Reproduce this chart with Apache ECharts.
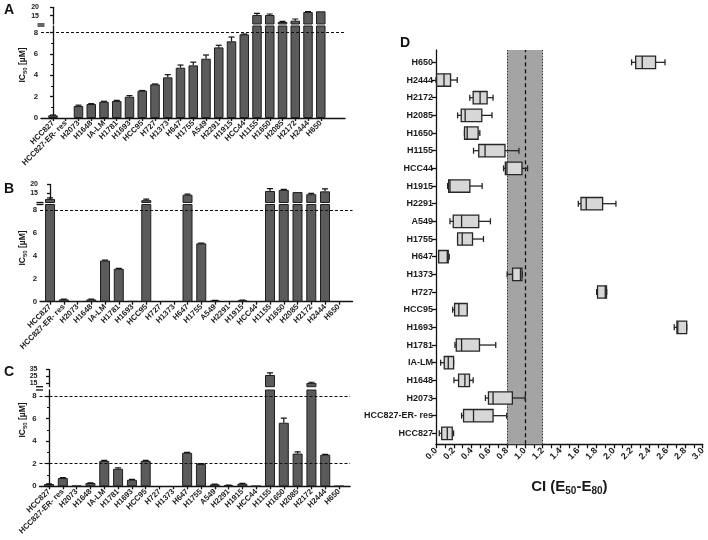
<!DOCTYPE html>
<html><head><meta charset="utf-8">
<script src="https://cdn.jsdelivr.net/npm/echarts@6/dist/echarts.min.js"></script>
<style>html,body{margin:0;padding:0;background:#fff}#c{width:708px;height:540px}</style>
</head><body><div id="c"></div>
<script>
// ---------- data ----------
const cellLines = ['HCC827','HCC827-ER- res','H2073','H1648','IA-LM','H1781','H1693','HCC95','H727','H1373','H647','H1755','A549','H2291','H1915','HCC44','H1155','H1650','H2085','H2172','H2444','H650'];
// Panel A
const icA  = [0.25,0,1.12,1.31,1.52,1.59,1.99,2.55,3.15,3.8,4.7,4.92,5.54,6.6,7.17,7.82,15.4,15.4,11.2,12.0,17.2,17.6];
const errA = [0.03,0,0.08,0.03,0.04,0.06,0.1,0.02,0.03,0.25,0.25,0.3,0.35,0.2,0.4,0.03,1.0,0.6,0.4,1.0,0.3,0];
// Panel B
const icB  = [12.0,0.2,0.03,0.2,3.6,2.88,0.05,11.3,0,0,14.3,5.1,0.1,0.04,0.12,0.03,16.4,17.0,15.8,14.6,16.2,0];
const errB = [0.6,0.02,0,0.02,0.03,0.03,0,0.6,0,0,0.4,0.03,0.02,0,0.03,0,1.3,0.3,0,0.5,1.4,0];
// Panel C
const icC  = [0.2,0.73,0.05,0.29,2.25,1.55,0.58,2.25,0,0,2.97,1.97,0.17,0.08,0.23,0.03,27,5.63,2.9,15.5,2.8,0.02];
const errC = [0.02,0.03,0,0.02,0.04,0.08,0.04,0.04,0,0,0.04,0.03,0.03,0.02,0.03,0,3,0.4,0.15,1.0,0.03,0];
const refLinesAB = [8];
const refLinesC = [8, 2];
const lowerTicks = [0,2,4,6,8];
const upperTicksAB = [15,20];
const upperTicksC = [15,25,35];
// Panel D (CI box plots), same order as cellLines (bottom to top)
const ciLow  = [0.037,0.288,0.556,0.202,0.052,0.213,2.68,0.187,1.807,0.80,0.03,0.243,0.157,1.601,0.131,0.76,0.422,0.32,0.243,0.38,0.0,2.20];
const ciQ1   = [0.064,0.31,0.59,0.254,0.093,0.228,2.71,0.209,1.817,0.862,0.03,0.243,0.194,1.631,0.142,0.78,0.481,0.321,0.284,0.418,0.007,2.246];
const ciMed  = [0.127,0.422,0.642,0.325,0.138,0.288,2.72,0.257,1.904,0.95,0.127,0.295,0.288,1.69,0.157,0.798,0.552,0.351,0.328,0.496,0.09,2.32];
const ciQ3   = [0.183,0.642,0.859,0.377,0.198,0.489,2.82,0.351,1.918,0.967,0.138,0.411,0.481,1.874,0.381,0.967,0.776,0.474,0.515,0.575,0.164,2.47];
const ciHigh = [0.198,0.795,1.004,0.418,0.198,0.672,2.82,0.351,1.92,0.97,0.149,0.534,0.612,2.024,0.519,1.03,0.933,0.493,0.63,0.642,0.239,2.576];
const ciBand = [0.8, 1.2];
const ciRef = 1.0;

// ---------- layout ----------
const FONT = 'Liberation Sans, Arial, sans-serif';
const TXT = '#1a1a1a';
const idx = cellLines.map((_, i) => i);
const panels = [
  {vals: icA, errs: errA, refs: refLinesAB, upTicks: upperTicksAB, upMin: 10, upMax: 20, loMax: 8.6,
   left: 41, xr: [-0.94, 22.9], width: 304, up: [7.3, 16.7], lo: [26, 92], bw: 9.5},
  {vals: icB, errs: errB, refs: refLinesAB, upTicks: upperTicksAB, upMin: 10, upMax: 20, loMax: 8.5,
   left: 40, xr: [-0.73, 22.0], width: 312.5, up: [184.5, 18], lo: [204.5, 97.2], bw: 10},
  {vals: icC, errs: errC, refs: refLinesC, upTicks: upperTicksC, upMin: 10, upMax: 35, loMax: 8.53,
   left: 39.5, xr: [-0.69, 21.8], width: 310.6, up: [369.5, 17.2], lo: [390, 96.3], bw: 10}
];

const grid = [], xAxis = [], yAxis = [], series = [], breakMarks = [];
const axisLineStyle = {color: '#111', width: 1.3};
const labelStyle = {color: TXT, fontFamily: FONT, fontWeight: 'bold', fontSize: 7.8};

function errRender(params, api) {
  const x = api.value(0);
  const p0 = api.coord([x, api.value(1)]);
  const p1 = api.coord([x, api.value(2)]);
  const hw = 3;
  return {type: 'group', children: [
    {type: 'line', shape: {x1: p0[0], y1: p0[1], x2: p1[0], y2: p1[1]}, style: {stroke: '#111', lineWidth: 1.2}},
    {type: 'line', shape: {x1: p1[0] - hw, y1: p1[1], x2: p1[0] + hw, y2: p1[1]}, style: {stroke: '#111', lineWidth: 1.2}}
  ]};
}

panels.forEach((p, k) => {
  const gu = grid.length, gl = gu + 1;
  grid.push({left: p.left, top: p.up[0], width: p.width, height: p.up[1]});
  grid.push({left: p.left, top: p.lo[0], width: p.width, height: p.lo[1]});
  // axis break marks (decoration only)
  [p.up[0] + p.up[1], p.lo[0]].forEach(yy => breakMarks.push({type: 'line', silent: true,
    shape: {x1: p.left - 3.5, y1: yy, x2: p.left + 3.5, y2: yy}, style: {stroke: '#111', lineWidth: 1.3}}));
  xAxis.push({gridIndex: gu, type: 'value', min: p.xr[0], max: p.xr[1], show: false});
  xAxis.push({gridIndex: gl, type: 'value', min: p.xr[0], max: p.xr[1],
    axisLine: {show: true, onZero: false, lineStyle: axisLineStyle},
    axisTick: {show: true, customValues: idx, length: 3, lineStyle: axisLineStyle},
    axisLabel: Object.assign({customValues: idx, rotate: 45, margin: 4, formatter: v => cellLines[Math.round(v)] || ''}, labelStyle),
    splitLine: {show: false}});
  yAxis.push({gridIndex: gu, type: 'value', min: p.upMin, max: p.upMax,
    axisLine: {show: true, lineStyle: axisLineStyle},
    axisTick: {show: true, customValues: p.upTicks, length: 3, lineStyle: axisLineStyle},
    axisLabel: Object.assign({customValues: p.upTicks, margin: 2}, labelStyle, {fontSize: 7, lineHeight: 7}),
    splitLine: {show: false}});
  yAxis.push({gridIndex: gl, type: 'value', min: 0, max: p.loMax, interval: 2,
    axisLine: {show: true, lineStyle: axisLineStyle},
    axisTick: {show: true, customValues: lowerTicks, length: 3, lineStyle: axisLineStyle},
    minorTick: {show: true, splitNumber: 2, length: 2, lineStyle: {color: '#111', width: 1}},
    axisLabel: Object.assign({customValues: lowerTicks, margin: 3}, labelStyle),
    splitLine: {show: false}});
  const barStyle = {color: '#5b5b5b', borderColor: '#1e1e1e', borderWidth: 1};
  series.push({type: 'bar', xAxisIndex: gl, yAxisIndex: gl, barWidth: p.bw, clip: true,
    itemStyle: barStyle, silent: true,
    data: p.vals.map((v, i) => [i, v]).filter(d => d[1] > 0),
    markLine: {silent: true, symbol: 'none', label: {show: false},
      lineStyle: {color: '#111', type: [3, 2], width: 1.1},
      data: p.refs.map(r => ({yAxis: r}))}});
  series.push({type: 'bar', xAxisIndex: gu, yAxisIndex: gu, barWidth: p.bw, clip: true,
    itemStyle: barStyle, silent: true,
    data: p.vals.map((v, i) => [i, v]).filter(d => d[1] >= p.upMin)});
  series.push({type: 'custom', xAxisIndex: gl, yAxisIndex: gl, clip: true, z: 4, renderItem: errRender,
    data: p.vals.map((v, i) => [i, v, v + p.errs[i]]).filter(d => d[1] > 0 && d[1] < p.loMax && d[2] > d[1]),
    encode: {x: 0, y: [1, 2]}});
  series.push({type: 'custom', xAxisIndex: gu, yAxisIndex: gu, clip: true, z: 4, renderItem: errRender,
    data: p.vals.map((v, i) => [i, v, v + p.errs[i]]).filter(d => d[1] >= p.upMin && d[2] > d[1]),
    encode: {x: 0, y: [1, 2]}});
});

// Panel D
const gd = grid.length;
grid.push({left: 436, top: 50, width: 268, height: 394.3});
xAxis.push({gridIndex: gd, type: 'value', min: 0, max: 3, interval: 0.2,
  axisLine: {show: true, onZero: false, lineStyle: axisLineStyle},
  axisTick: {show: true, length: 4, lineStyle: axisLineStyle},
  minorTick: {show: true, splitNumber: 2, length: 4, lineStyle: {color: '#111', width: 1.2}},
  axisLabel: Object.assign({}, labelStyle, {fontSize: 9, rotate: 45, margin: 5, formatter: v => v.toFixed(1)}),
  splitLine: {show: false},
  name: '{m|CI (E}{s|50}{m|-E}{s|80}{m|)}', nameLocation: 'middle', nameGap: 34,
  nameTextStyle: {rich: {
    m: {fontFamily: FONT, fontWeight: 'bold', fontSize: 15, color: TXT, lineHeight: 18},
    s: {fontFamily: FONT, fontWeight: 'bold', fontSize: 10, color: TXT, verticalAlign: 'bottom', lineHeight: 12, padding: [6, 0, 0, 0]}
  }}});
yAxis.push({gridIndex: gd, type: 'value', min: -0.62, max: 21.7,
  axisLine: {show: true, onZero: false, lineStyle: axisLineStyle},
  axisTick: {show: true, customValues: idx, length: 4, lineStyle: axisLineStyle},
  axisLabel: Object.assign({}, labelStyle, {fontSize: 9, customValues: idx, margin: 3, formatter: v => cellLines[Math.round(v)] || ''}),
  splitLine: {show: false}});
series.push({type: 'line', xAxisIndex: gd, yAxisIndex: gd, data: [], z: 1, silent: true,
  markArea: {silent: true, itemStyle: {color: '#a4a4a4'}, data: [[{xAxis: ciBand[0]}, {xAxis: ciBand[1]}]]},
  markLine: {silent: true, symbol: 'none', label: {show: false},
    data: [
      {xAxis: ciBand[0], lineStyle: {type: [1.5, 1.5], color: '#333', width: 1}},
      {xAxis: ciBand[1], lineStyle: {type: [1.5, 1.5], color: '#333', width: 1}},
      {xAxis: ciRef, lineStyle: {type: [4, 3], color: '#111', width: 1.3}}
    ]}});
series.push({type: 'custom', xAxisIndex: gd, yAxisIndex: gd, z: 5, silent: true,
  data: idx.map(i => [i, ciLow[i], ciQ1[i], ciMed[i], ciQ3[i], ciHigh[i]]),
  encode: {y: 0, x: [1, 2, 3, 4, 5]},
  renderItem(params, api) {
    const y = api.value(0);
    const c = v => api.coord([v, y]);
    const lo = c(api.value(1)), q1 = c(api.value(2)), md = c(api.value(3)), q3 = c(api.value(4)), hi = c(api.value(5));
    const cy = lo[1], bh = 6.2, ch = 3;
    const st = {stroke: '#262626', lineWidth: 1.3};
    return {type: 'group', children: [
      {type: 'line', shape: {x1: lo[0], y1: cy, x2: q1[0], y2: cy}, style: st},
      {type: 'line', shape: {x1: q3[0], y1: cy, x2: hi[0], y2: cy}, style: st},
      {type: 'line', shape: {x1: lo[0], y1: cy - ch, x2: lo[0], y2: cy + ch}, style: st},
      {type: 'line', shape: {x1: hi[0], y1: cy - ch, x2: hi[0], y2: cy + ch}, style: st},
      {type: 'rect', shape: {x: q1[0], y: cy - bh, width: Math.max(q3[0] - q1[0], 0.5), height: 2 * bh}, style: {fill: '#d7d7d7', stroke: '#262626', lineWidth: 1.3}},
      {type: 'line', shape: {x1: md[0], y1: cy - bh, x2: md[0], y2: cy + bh}, style: st}
    ]};
  }});

// ---------- text decorations ----------
function letter(t, x, y) {
  return {type: 'text', x, y, silent: true, style: {text: t, fill: '#111', font: 'bold 14px ' + FONT, textAlign: 'center', textVerticalAlign: 'middle'}};
}
function icName(y) {
  return {type: 'text', x: 23, y, rotation: Math.PI / 2, silent: true,
    style: {text: '{m|IC}{s|50}{m| [µM]}', textAlign: 'center', textVerticalAlign: 'middle',
      rich: {m: {fill: TXT, fontFamily: FONT, fontWeight: 'bold', fontSize: 8.5, lineHeight: 11},
             s: {fill: TXT, fontFamily: FONT, fontWeight: 'bold', fontSize: 6, verticalAlign: 'bottom', lineHeight: 8, padding: [4, 0, 0, 0]}}}};
}
const graphic = [letter('A', 9, 10), letter('B', 9, 189), letter('C', 9, 372), letter('D', 405, 43),
  icName(65), icName(248), icName(420)].concat(breakMarks);

const chart = echarts.init(document.getElementById('c'), null, {renderer: 'canvas'});
chart.setOption({animation: false, backgroundColor: '#fff', grid, xAxis, yAxis, series, graphic});
</script></body></html>
